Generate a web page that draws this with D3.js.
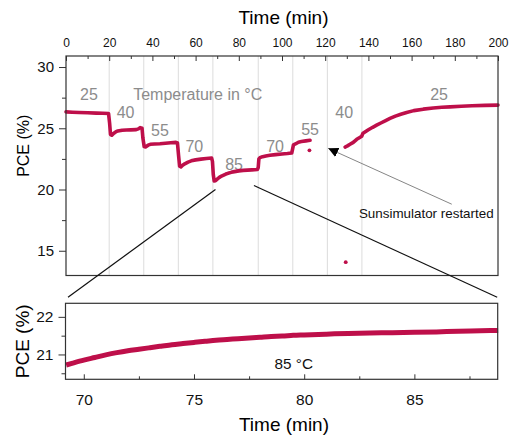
<!DOCTYPE html>
<html>
<head>
<meta charset="utf-8">
<script src="https://cdn.jsdelivr.net/npm/d3@7"></script>
<style>
  body { margin: 0; background: #fff; }
  text { font-family: "Liberation Sans", Arial, sans-serif; }
</style>
</head>
<body>
<svg id="chart" width="509" height="436"></svg>
<script>
// PCE over the whole run (null = gap while the sunsimulator was off)
const runTime = [0, 3, 6, 10, 14, 17, 19.7, 20.2, 20.6, 21.2, 22, 23, 24, 26, 28, 30, 32.5, 33.5, 34.3, 35.2,
  35.6, 36.2, 36.8, 38, 39, 41, 43.5, 46, 48.5, 50.9, 51.6, 52.1, 52.6, 53.2, 54, 55, 56.5, 58, 60, 62.5, 65, 67.4,
  67.8, 68.2, 68.6, 69.2, 70, 71, 72, 73, 74, 75, 76.5, 78, 80, 82, 84, 86, 88.6, 89.0, 89.3, 89.8, 91, 92.5, 94.4,
  97, 100, 102.5, 104.5, 104.9, 105.3, 106.2, 107.6, 109, 111, 113, null,
  129.2, 130.3, 131.5, 133, 134.6, 136, 136.9, 137.5, 138.4, 140, 142, 143.8, 146, 148, 150, 152.5, 155, 157.7,
  161, 165.4, 170, 174, 177.8, 183, 188, 194, 200];
const runPce = [26.34, 26.31, 26.29, 26.27, 26.24, 26.22, 26.2, 25.4, 24.5, 24.43, 24.58, 24.7, 24.78, 24.84, 24.86, 24.87, 24.89, 24.95, 25.05, 25.0,
  24.2, 23.5, 23.47, 23.62, 23.69, 23.72, 23.74, 23.78, 23.82, 23.85, 23.8, 22.8, 21.9, 21.85, 21.98, 22.1, 22.24, 22.34, 22.42, 22.48, 22.53, 22.57,
  22.3, 21.2, 20.7, 20.72, 20.85, 20.99, 21.1, 21.18, 21.26, 21.32, 21.4, 21.46, 21.52, 21.56, 21.58, 21.6, 21.63, 21.8, 22.5, 22.6, 22.68, 22.74, 22.79,
  22.85, 22.9, 22.94, 22.98, 23.3, 23.65, 23.72, 23.86, 23.92, 23.97, 24.02, null,
  23.47, 23.56, 23.69, 23.85, 24.1, 24.25, 24.35, 24.6, 24.7, 24.88, 25.08, 25.25, 25.45, 25.63, 25.8, 25.99, 26.14, 26.29,
  26.44, 26.56, 26.65, 26.71, 26.75, 26.8, 26.84, 26.87, 26.89];

// single stray measurements
const strayTime = [112.7, 129.5];
const strayPce = [23.2, 14.07];

// temperature switch times (grid lines)
const switchTimes = [20, 36, 52, 68, 89, 105, 121, 137];

// temperature labels (°C) and where they sit (time, PCE)
const tempText = ["25", "40", "55", "70", "85", "70", "55", "40", "25"];
const tempTime = [10.6, 27.6, 43.5, 59.4, 77.8, 96.8, 113, 128.8, 172.7];
const tempPce = [27.79, 26.29, 24.84, 23.52, 22.02, 23.52, 24.9, 26.29, 27.76];

// zoom of the 85 °C step
const zoomTime = [69.2, 69.5, 70, 70.5, 71, 71.5, 72, 72.5, 73, 73.5, 74, 74.5, 75, 75.5, 76, 76.5, 77, 77.5,
  78, 78.5, 79, 79.5, 80, 81, 82, 83, 84, 85, 86, 87, 88, 88.8];
const zoomPce = [20.72, 20.77, 20.85, 20.92, 20.99, 21.05, 21.1, 21.14, 21.18, 21.22, 21.26, 21.29, 21.32, 21.35, 21.38, 21.4, 21.42, 21.44,
  21.46, 21.48, 21.49, 21.51, 21.52, 21.54, 21.56, 21.57, 21.58, 21.59, 21.6, 21.62, 21.63, 21.64];

const red = "#be0f4a";
const grey = "#8c8c8c";
const ink = "#333";

const svg = d3.select("#chart");
svg.append("rect").attr("width", 509).attr("height", 436).attr("fill", "#fff");

// ---- top panel ----
const x = d3.scaleLinear().domain([0, 200]).range([66, 498]);
const y = d3.scaleLinear().domain([12.98, 30.9]).range([275.5, 56]);

const upper = svg.append("g");

upper.selectAll("line.grid")
  .data(switchTimes)
  .enter()
  .append("line")
  .attr("class", "grid")
  .attr("x1", d => x(d)).attr("x2", d => x(d))
  .attr("y1", y.range()[1]).attr("y2", y.range()[0])
  .attr("stroke", "#dcdcdc")
  .attr("stroke-width", 1);

upper.selectAll("text.temp")
  .data(tempText)
  .enter()
  .append("text")
  .attr("class", "temp")
  .attr("x", (d, i) => x(tempTime[i]))
  .attr("y", (d, i) => y(tempPce[i]))
  .attr("dy", "0.35em")
  .attr("text-anchor", "middle")
  .attr("font-size", 16)
  .attr("fill", grey)
  .text(d => d);

upper.append("text")
  .attr("x", x(61))
  .attr("y", y(27.79))
  .attr("dy", "0.35em")
  .attr("text-anchor", "middle")
  .attr("font-size", 16)
  .attr("fill", grey)
  .text("Temperature in °C");

const runLine = d3.line()
  .defined((d, i) => runTime[i] !== null)
  .x((d, i) => x(runTime[i]))
  .y(d => y(d));

upper.append("path")
  .datum(runPce)
  .attr("d", runLine)
  .attr("fill", "none")
  .attr("stroke", red)
  .attr("stroke-width", 3.6)
  .attr("stroke-linejoin", "round")
  .attr("stroke-linecap", "round");

upper.selectAll("circle.stray")
  .data(strayPce)
  .enter()
  .append("circle")
  .attr("class", "stray")
  .attr("cx", (d, i) => x(strayTime[i]))
  .attr("cy", d => y(d))
  .attr("r", 1.9)
  .attr("fill", red);

// axes
const xTop = upper.append("g").attr("transform", `translate(0,${y.range()[1]})`)
  .call(d3.axisTop(x).tickValues(d3.range(0, 201, 20)).tickSize(-5).tickPadding(9));
xTop.selectAll("text").attr("font-size", 12).attr("fill", "#111");
upper.append("g").attr("transform", `translate(0,${y.range()[1]})`)
  .call(d3.axisTop(x).tickValues(d3.range(10, 200, 20)).tickSize(-3).tickFormat(""));

const yTop = upper.append("g").attr("transform", `translate(${x.range()[0]},0)`)
  .call(d3.axisLeft(y).tickValues([15, 20, 25, 30]).tickSize(7).tickPadding(5));
yTop.selectAll("text").attr("font-size", 15).attr("fill", "#111");
upper.append("g").attr("transform", `translate(${x.range()[0]},0)`)
  .call(d3.axisLeft(y).tickValues([17.5, 22.5, 27.5]).tickSize(4).tickFormat(""));

upper.append("rect")
  .attr("x", x.range()[0]).attr("y", y.range()[1])
  .attr("width", x.range()[1] - x.range()[0])
  .attr("height", y.range()[0] - y.range()[1])
  .attr("fill", "none").attr("stroke", ink).attr("stroke-width", 1.2);

upper.append("text")
  .attr("x", 283.5).attr("y", 24)
  .attr("text-anchor", "middle")
  .attr("font-size", 19)
  .text("Time (min)");

upper.append("text")
  .attr("transform", `translate(28.5,${(y.range()[0] + y.range()[1]) / 2 - 20}) rotate(-90)`)
  .attr("text-anchor", "middle")
  .attr("font-size", 16)
  .text("PCE (%)");

// arrow to the restart
svg.append("defs").append("marker")
  .attr("id", "head")
  .attr("viewBox", "0 0 10 10")
  .attr("refX", 10).attr("refY", 5)
  .attr("markerWidth", 10).attr("markerHeight", 10)
  .attr("markerUnits", "userSpaceOnUse")
  .attr("orient", "auto")
  .append("path")
  .attr("d", "M0,0 L10,5 L0,10 z")
  .attr("fill", "#000");

upper.append("line")
  .attr("x1", x(178.6)).attr("y1", y(18.8))
  .attr("x2", x(121.4)).attr("y2", y(23.36))
  .attr("stroke", "#777").attr("stroke-width", 0.9)
  .attr("marker-end", "url(#head)");

upper.append("text")
  .attr("x", x(166.8)).attr("y", y(18.07))
  .attr("dy", "0.35em")
  .attr("text-anchor", "middle")
  .attr("font-size", 13.4)
  .attr("fill", "#111")
  .text("Sunsimulator restarted");

// ---- bottom panel (zoom) ----
const xz = d3.scaleLinear().domain([69.17, 88.78]).range([65.5, 497.7]);
const yz = d3.scaleLinear().domain([20.34, 22.36]).range([379.3, 303.3]);

const lower = svg.append("g");

lower.append("path")
  .datum(zoomPce)
  .attr("d", d3.line().x((d, i) => xz(zoomTime[i])).y(d => yz(d)).curve(d3.curveMonotoneX))
  .attr("fill", "none")
  .attr("stroke", red)
  .attr("stroke-width", 5);

const xBot = lower.append("g").attr("transform", `translate(0,${yz.range()[0]})`)
  .call(d3.axisBottom(xz).tickValues([70, 75, 80, 85]).tickSize(-5).tickPadding(15));
xBot.selectAll("text").attr("font-size", 15.5).attr("fill", "#111");
lower.append("g").attr("transform", `translate(0,${yz.range()[0]})`)
  .call(d3.axisBottom(xz).tickValues([72.5, 77.5, 82.5, 87.5]).tickSize(-3).tickFormat(""));

const yBot = lower.append("g").attr("transform", `translate(${xz.range()[0]},0)`)
  .call(d3.axisLeft(yz).tickValues([21, 22]).tickFormat(d3.format("d")).tickSize(7).tickPadding(5));
yBot.selectAll("text").attr("font-size", 15.5).attr("fill", "#111");
lower.append("g").attr("transform", `translate(${xz.range()[0]},0)`)
  .call(d3.axisLeft(yz).tickValues([20.5, 21.5]).tickSize(4).tickFormat(""));

lower.append("rect")
  .attr("x", xz.range()[0]).attr("y", yz.range()[1])
  .attr("width", xz.range()[1] - xz.range()[0])
  .attr("height", yz.range()[0] - yz.range()[1])
  .attr("fill", "none").attr("stroke", ink).attr("stroke-width", 1.2);

lower.append("text")
  .attr("x", xz(79.53)).attr("y", yz(20.765))
  .attr("dy", "0.35em")
  .attr("text-anchor", "middle")
  .attr("font-size", 15.3)
  .attr("fill", "#111")
  .text("85 °C");

lower.append("text")
  .attr("x", 284).attr("y", 431)
  .attr("text-anchor", "middle")
  .attr("font-size", 19)
  .text("Time (min)");

lower.append("text")
  .attr("transform", `translate(29,${(yz.range()[0] + yz.range()[1]) / 2}) rotate(-90)`)
  .attr("text-anchor", "middle")
  .attr("font-size", 19)
  .text("PCE (%)");

// connector lines from the 85 °C step to the zoom panel
svg.selectAll("line.zoomlink")
  .data([[69.2, 20.0, xz.range()[0] + 2.5], [87.0, 20.33, xz.range()[1] - 0.5]])
  .enter()
  .append("line")
  .attr("class", "zoomlink")
  .attr("x1", d => x(d[0])).attr("y1", d => y(d[1]))
  .attr("x2", d => d[2]).attr("y2", yz.range()[1] - 6)
  .attr("stroke", "#111").attr("stroke-width", 1.2);

svg.selectAll(".domain").remove();
svg.selectAll(".tick line").attr("stroke", ink);
</script>
</body>
</html>
